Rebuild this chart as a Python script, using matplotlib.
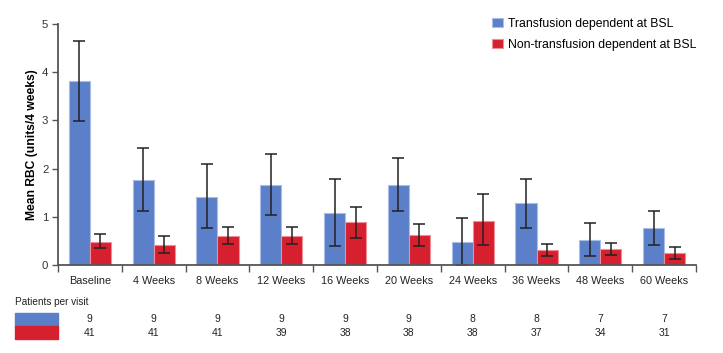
import matplotlib.pyplot as plt
import matplotlib.patches as mpatches
from matplotlib.transforms import blended_transform_factory
import numpy as np

plt.rcParams['font.family'] = ['Liberation Sans', 'DejaVu Sans']

categories = ['Baseline', '4 Weeks', '8 Weeks', '12 Weeks', '16 Weeks',
              '20 Weeks', '24 Weeks', '36 Weeks', '48 Weeks', '60 Weeks']

td_mean = [3.81, 1.76, 1.42, 1.66, 1.08, 1.67, 0.48, 1.28, 0.51, 0.77]
td_upper = [4.65, 2.43, 2.09, 2.31, 1.79, 2.21, 0.98, 1.78, 0.87, 1.11]
td_lower = [2.98, 1.11, 0.77, 1.03, 0.40, 1.11, 0.00, 0.76, 0.19, 0.42]

ntd_mean = [0.48, 0.41, 0.60, 0.60, 0.89, 0.62, 0.92, 0.32, 0.34, 0.24]
ntd_upper = [0.64, 0.61, 0.79, 0.79, 1.21, 0.86, 1.48, 0.43, 0.45, 0.37]
ntd_lower = [0.35, 0.24, 0.43, 0.43, 0.55, 0.40, 0.41, 0.19, 0.21, 0.12]

td_n = [9, 9, 9, 9, 9, 9, 8, 8, 7, 7]
ntd_n = [41, 41, 41, 39, 38, 38, 38, 37, 34, 31]

blue = '#5b7fc8'
red = '#d61f2f'

fig = plt.figure(figsize=(7.23, 3.53), dpi=100)
ax = fig.add_axes([0.0802, 0.2493, 0.8825, 0.6827])

x = np.arange(len(categories))
w = 0.33
td_err = [np.array(td_mean) - np.array(td_lower), np.array(td_upper) - np.array(td_mean)]
ntd_err = [np.array(ntd_mean) - np.array(ntd_lower), np.array(ntd_upper) - np.array(ntd_mean)]

ax.bar(x - w / 2, td_mean, w, color=blue, edgecolor='#a9bde6', linewidth=0.8,
       label='Transfusion dependent at BSL')
ax.bar(x + w / 2, ntd_mean, w, color=red, edgecolor='#ee8f98', linewidth=0.8,
       label='Non-transfusion dependent at BSL')
ax.errorbar(x - w / 2, td_mean, yerr=td_err, fmt='none', ecolor='#222222',
            elinewidth=1.1, capsize=4, capthick=1.1)
ax.errorbar(x + w / 2, ntd_mean, yerr=ntd_err, fmt='none', ecolor='#222222',
            elinewidth=1.1, capsize=4, capthick=1.1)

ax.set_xlim(-0.5, len(categories) - 0.5)
ax.set_ylim(0, 5)
ax.set_yticks([0, 1, 2, 3, 4, 5])
ax.set_xticks(np.arange(-0.5, len(categories), 1.0))
ax.set_xticklabels([])
ax.set_xticks(x, minor=True)
ax.set_xticklabels(categories, minor=True)
ax.tick_params(axis='x', which='major', length=5, width=1, color='#555555', direction='out')
ax.tick_params(axis='x', which='minor', length=0, pad=8, labelsize=7.8, labelcolor='#222222')
ax.tick_params(axis='y', length=4, width=1, color='#555555', labelsize=8.2, labelcolor='#333333', pad=3)
for s in ['top', 'right']:
    ax.spines[s].set_visible(False)
for s in ['left', 'bottom']:
    ax.spines[s].set_color('#555555')
    ax.spines[s].set_linewidth(1.3)
ax.set_ylabel('Mean RBC (units/4 weeks)', fontsize=8.7, fontweight='bold', labelpad=3)

fig.legend(loc='upper left', bbox_to_anchor=(492 / 723, 1 - 18 / 353), frameon=False, fontsize=8.8,
           handlelength=0.9, handleheight=0.75, handletextpad=0.45, labelspacing=0.75,
           borderpad=0, borderaxespad=0)

# patients per visit table
fig.text(15 / 723, 1 - 302 / 353, 'Patients per visit', fontsize=7.2, va='center', ha='left', color='#222222')
fig.patches.append(mpatches.Rectangle((15 / 723, 1 - 326 / 353), 43 / 723, 13 / 353,
                                      transform=fig.transFigure, color=blue))
fig.patches.append(mpatches.Rectangle((15 / 723, 1 - 339 / 353), 43 / 723, 13 / 353,
                                      transform=fig.transFigure, color=red))
tr = blended_transform_factory(ax.transData, fig.transFigure)
for i in range(len(categories)):
    ax.text(x[i], 1 - 319 / 353, str(td_n[i]), transform=tr, ha='center', va='center',
            fontsize=7.5, color='#222222')
    ax.text(x[i], 1 - 332.5 / 353, str(ntd_n[i]), transform=tr, ha='center', va='center',
            fontsize=7.5, color='#222222')

fig.savefig('out.png', dpi=100)
